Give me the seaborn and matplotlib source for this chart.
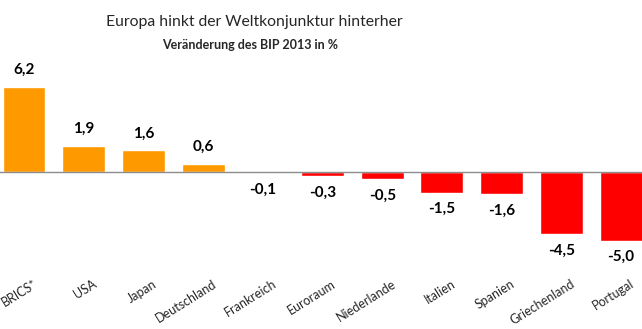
import matplotlib
matplotlib.use("Agg")
import matplotlib.pyplot as plt
import matplotlib.transforms as mtransforms
import seaborn as sns
import pandas as pd

countries = ["BRICS*", "USA", "Japan", "Deutschland", "Frankreich", "Euroraum",
             "Niederlande", "Italien", "Spanien", "Griechenland", "Portugal"]
values = [6.2, 1.9, 1.6, 0.6, -0.1, -0.3, -0.5, -1.5, -1.6, -4.5, -5.0]
value_labels = ["6,2", "1,9", "1,6", "0,6", "-0,1", "-0,3", "-0,5", "-1,5", "-1,6", "-4,5", "-5,0"]
title = "Europa hinkt der Weltkonjunktur hinterher"
subtitle = "Veränderung des BIP 2013 in %"

sns.set_style("white")
plt.rcParams['font.family'] = ['Lato', 'DejaVu Sans']

df = pd.DataFrame({"land": countries, "wert": values,
                   "vz": ["pos" if v >= 0 else "neg" for v in values]})

fig = plt.figure(figsize=(6.42, 3.29), dpi=100)
ax = fig.add_axes([0, (329 - 250) / 329, 1, 190 / 329])
sns.barplot(data=df, x="land", y="wert", hue="vz",
            palette={"pos": "#FF9900", "neg": "#FF0000"},
            dodge=False, width=0.72, legend=False, ax=ax, saturation=1)
for p in ax.patches:
    p.set_zorder(2)

ax.set_xlabel("")
ax.set_ylabel("")
ax.set_yticks([])
for s in ["top", "right", "left"]:
    ax.spines[s].set_visible(False)
ax.spines["bottom"].set_position(("data", 0))
ax.spines["bottom"].set_color("#8c8c8c")
ax.spines["bottom"].set_linewidth(1.0)
ax.spines["bottom"].set_zorder(4)

ax.set_xticks([i + 0.5 for i in range(-1, 11)], minor=True)
ax.tick_params(axis="x", which="minor", length=4, width=1, color="#8c8c8c", direction="out")
ax.tick_params(axis="x", which="major", length=0, pad=76)
ax.set_xticks(range(len(countries)))
ax.set_xticklabels(countries, rotation=32, ha="right", va="top",
                   rotation_mode="anchor", fontsize=9)
offset = mtransforms.ScaledTranslation(9 / 100, 0, fig.dpi_scale_trans)
for lab in ax.get_xticklabels():
    lab.set_transform(lab.get_transform() + offset)

ax.set_xlim(-0.402, 10.35)
ax.set_ylim(-5.685, 8.16)

for i, (v, t) in enumerate(zip(values, value_labels)):
    dy = 12 if v >= 0 else -12
    ax.annotate(t, (i, v), xytext=(0, dy), textcoords="offset points",
                ha="center", va="center", fontsize=11, fontweight="bold", color="black")

fig.text(254 / 642, 1 - 22 / 329, title, ha="center", va="center", fontsize=11.3)
fig.text(250 / 642, 1 - 45 / 329, subtitle, ha="center", va="center", fontsize=9,
         fontweight="bold")

fig.savefig("out.png", dpi=100)
